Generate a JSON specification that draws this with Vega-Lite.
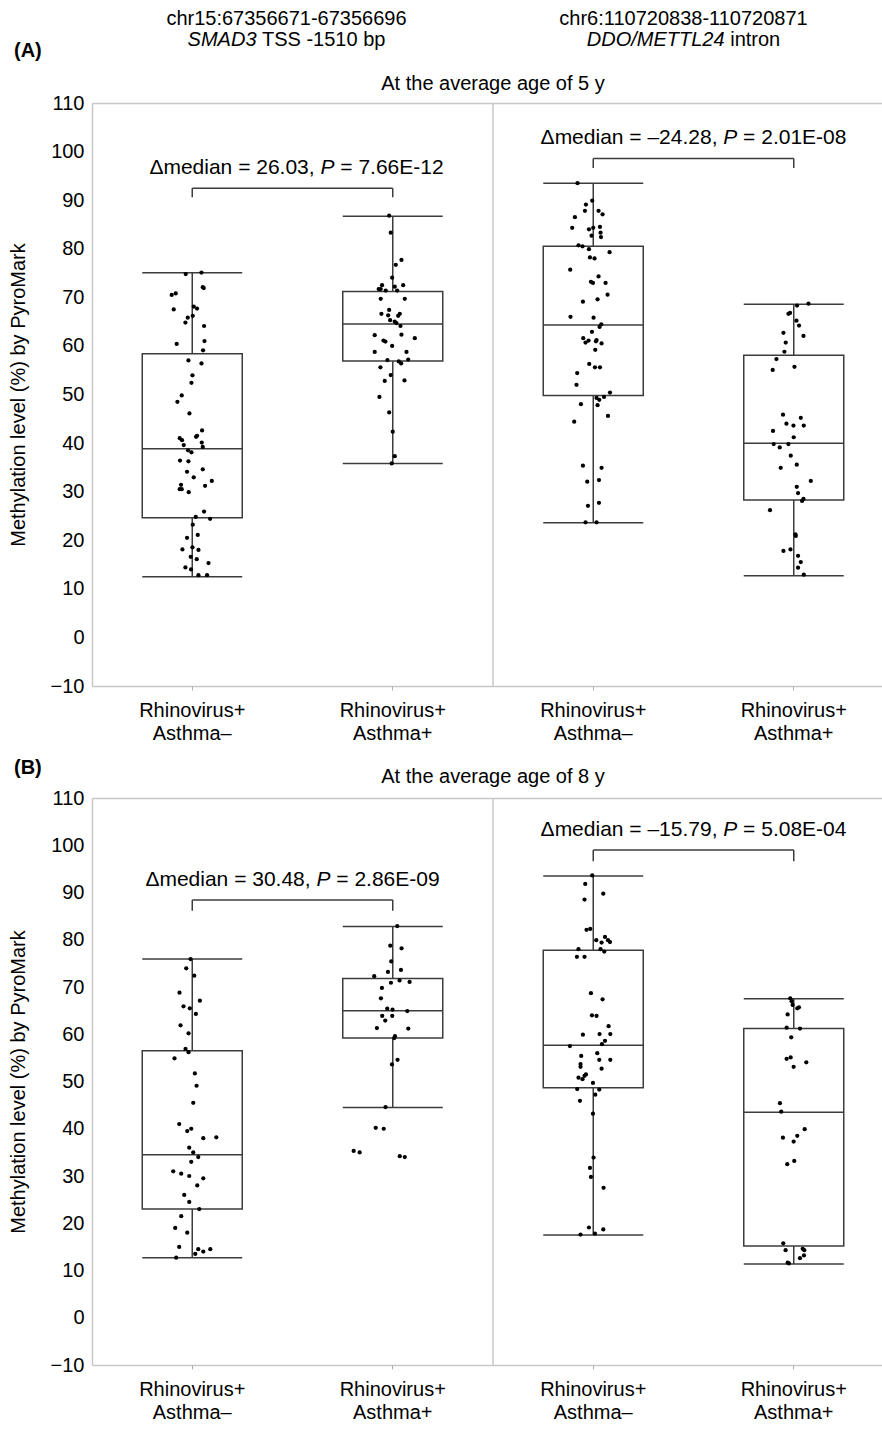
{
"$schema": "https://vega.github.io/schema/vega-lite/v6.json",
"padding": {"left": 8, "top": 8, "right": 0, "bottom": 0},
"background": "white",
"config": {"font": "Liberation Sans", "view": {"stroke": null}},
"bounds": "flush",
"spacing": 112,
"datasets": {
"statsA": [
{"g":"g1","min":12.5,"q1":24.65,"med":38.85,"q3":58.4,"max":75.05},
{"g":"g2","min":35.8,"q1":56.9,"med":64.5,"q3":71.2,"max":86.7},
{"g":"g3","min":23.6,"q1":49.8,"med":64.3,"q3":80.5,"max":93.5},
{"g":"g4","min":12.7,"q1":28.3,"med":39.95,"q3":58.1,"max":68.6}
],
"statsB": [
{"g":"g1","min":12.7,"q1":23.0,"med":34.5,"q3":56.5,"max":75.9},
{"g":"g2","min":44.5,"q1":59.2,"med":65.0,"q3":71.8,"max":82.8},
{"g":"g3","min":17.5,"q1":48.7,"med":57.65,"q3":77.8,"max":93.5},
{"g":"g4","min":11.4,"q1":15.2,"med":43.5,"q3":61.2,"max":67.5}
],
"ptsA": [
{"g":"g1","j":-0.065,"v":74.8},{"g":"g1","j":0.092,"v":75.1},{"g":"g1","j":0.105,"v":72.1},{"g":"g1","j":0.115,"v":71.9},{"g":"g1","j":-0.205,"v":70.5},{"g":"g1","j":-0.165,"v":70.8},{"g":"g1","j":-0.185,"v":67.5},{"g":"g1","j":0.015,"v":68.1},{"g":"g1","j":0.048,"v":67.7},{"g":"g1","j":-0.045,"v":65.8},{"g":"g1","j":0.005,"v":66.2},{"g":"g1","j":-0.068,"v":64.8},{"g":"g1","j":0.118,"v":64.1},{"g":"g1","j":-0.155,"v":60.4},{"g":"g1","j":0.122,"v":61.0},{"g":"g1","j":0.108,"v":59.1},{"g":"g1","j":-0.038,"v":57.0},{"g":"g1","j":0.092,"v":56.4},{"g":"g1","j":0.002,"v":53.95},{"g":"g1","j":-0.008,"v":52.4},{"g":"g1","j":-0.105,"v":49.8},{"g":"g1","j":-0.148,"v":48.5},{"g":"g1","j":-0.028,"v":46.1},{"g":"g1","j":0.098,"v":42.6},{"g":"g1","j":0.048,"v":41.5},{"g":"g1","j":0.038,"v":41.3},{"g":"g1","j":-0.125,"v":41.0},{"g":"g1","j":-0.102,"v":40.6},{"g":"g1","j":0.095,"v":40.1},{"g":"g1","j":-0.085,"v":39.6},{"g":"g1","j":0.105,"v":39.2},{"g":"g1","j":-0.042,"v":38.5},{"g":"g1","j":-0.008,"v":38.1},{"g":"g1","j":-0.122,"v":36.4},{"g":"g1","j":-0.038,"v":36.25},{"g":"g1","j":0.105,"v":34.6},{"g":"g1","j":-0.052,"v":34.1},{"g":"g1","j":0.015,"v":32.95},{"g":"g1","j":0.195,"v":32.2},{"g":"g1","j":0.128,"v":31.2},{"g":"g1","j":-0.112,"v":31.4},{"g":"g1","j":-0.125,"v":30.5},{"g":"g1","j":-0.105,"v":30.5},{"g":"g1","j":-0.035,"v":29.9},{"g":"g1","j":0.118,"v":25.9},{"g":"g1","j":0.035,"v":24.8},{"g":"g1","j":0.178,"v":24.4},{"g":"g1","j":0.005,"v":23.2},{"g":"g1","j":-0.052,"v":20.5},{"g":"g1","j":0.055,"v":21.1},{"g":"g1","j":-0.098,"v":18.1},{"g":"g1","j":0.062,"v":18.0},{"g":"g1","j":0.002,"v":18.55},{"g":"g1","j":-0.015,"v":16.6},{"g":"g1","j":0.045,"v":16.1},{"g":"g1","j":0.162,"v":15.3},{"g":"g1","j":-0.068,"v":14.4},{"g":"g1","j":-0.012,"v":14.0},{"g":"g1","j":0.062,"v":12.8},{"g":"g1","j":0.148,"v":12.8},
{"g":"g2","j":-0.036,"v":86.8},{"g":"g2","j":-0.02,"v":83.3},{"g":"g2","j":0.087,"v":77.7},{"g":"g2","j":0.03,"v":76.7},{"g":"g2","j":-0.006,"v":74.05},{"g":"g2","j":-0.107,"v":72.5},{"g":"g2","j":0.104,"v":72.5},{"g":"g2","j":-0.14,"v":71.7},{"g":"g2","j":-0.12,"v":71.7},{"g":"g2","j":-0.07,"v":71.4},{"g":"g2","j":0.02,"v":72.2},{"g":"g2","j":0.044,"v":71.4},{"g":"g2","j":-0.12,"v":69.7},{"g":"g2","j":0.12,"v":69.7},{"g":"g2","j":-0.036,"v":67.4},{"g":"g2","j":-0.113,"v":66.6},{"g":"g2","j":-0.046,"v":66.3},{"g":"g2","j":0.07,"v":66.6},{"g":"g2","j":0.054,"v":66.2},{"g":"g2","j":-0.026,"v":65.3},{"g":"g2","j":0.02,"v":65.0},{"g":"g2","j":0.037,"v":64.7},{"g":"g2","j":0.077,"v":64.1},{"g":"g2","j":-0.18,"v":62.2},{"g":"g2","j":0.087,"v":62.3},{"g":"g2","j":0.22,"v":61.6},{"g":"g2","j":-0.093,"v":61.1},{"g":"g2","j":-0.073,"v":60.9},{"g":"g2","j":-0.006,"v":60.0},{"g":"g2","j":-0.18,"v":58.75},{"g":"g2","j":0.137,"v":58.75},{"g":"g2","j":-0.053,"v":57.1},{"g":"g2","j":0.06,"v":56.8},{"g":"g2","j":0.084,"v":56.4},{"g":"g2","j":0.154,"v":57.2},{"g":"g2","j":-0.123,"v":55.6},{"g":"g2","j":-0.02,"v":54.0},{"g":"g2","j":-0.08,"v":52.8},{"g":"g2","j":0.117,"v":52.9},{"g":"g2","j":-0.133,"v":49.5},{"g":"g2","j":-0.036,"v":46.3},{"g":"g2","j":0.0,"v":42.35},{"g":"g2","j":0.02,"v":37.3},{"g":"g2","j":-0.01,"v":35.8},
{"g":"g3","j":-0.157,"v":93.5},{"g":"g3","j":-0.01,"v":89.9},{"g":"g3","j":-0.073,"v":89.1},{"g":"g3","j":-0.083,"v":87.8},{"g":"g3","j":0.053,"v":87.8},{"g":"g3","j":0.093,"v":87.1},{"g":"g3","j":-0.183,"v":86.5},{"g":"g3","j":-0.21,"v":84.3},{"g":"g3","j":-0.043,"v":84.0},{"g":"g3","j":0.0,"v":84.3},{"g":"g3","j":0.067,"v":84.5},{"g":"g3","j":0.073,"v":83.3},{"g":"g3","j":-0.017,"v":82.7},{"g":"g3","j":0.077,"v":82.4},{"g":"g3","j":-0.147,"v":80.7},{"g":"g3","j":-0.107,"v":80.5},{"g":"g3","j":-0.043,"v":79.9},{"g":"g3","j":0.163,"v":79.3},{"g":"g3","j":-0.033,"v":78.2},{"g":"g3","j":0.013,"v":78.0},{"g":"g3","j":-0.23,"v":75.7},{"g":"g3","j":0.053,"v":74.3},{"g":"g3","j":-0.023,"v":73.2},{"g":"g3","j":-0.003,"v":72.96},{"g":"g3","j":0.123,"v":72.96},{"g":"g3","j":0.143,"v":70.55},{"g":"g3","j":0.043,"v":69.6},{"g":"g3","j":-0.103,"v":69.1},{"g":"g3","j":-0.227,"v":66.0},{"g":"g3","j":0.003,"v":65.8},{"g":"g3","j":0.08,"v":64.45},{"g":"g3","j":0.063,"v":63.9},{"g":"g3","j":-0.013,"v":62.9},{"g":"g3","j":-0.1,"v":61.6},{"g":"g3","j":-0.047,"v":61.1},{"g":"g3","j":-0.077,"v":60.7},{"g":"g3","j":0.033,"v":61.2},{"g":"g3","j":0.027,"v":60.95},{"g":"g3","j":0.083,"v":60.5},{"g":"g3","j":0.02,"v":59.2},{"g":"g3","j":-0.04,"v":56.3},{"g":"g3","j":0.017,"v":55.6},{"g":"g3","j":0.067,"v":55.6},{"g":"g3","j":-0.16,"v":54.4},{"g":"g3","j":-0.167,"v":52.0},{"g":"g3","j":0.167,"v":50.4},{"g":"g3","j":0.107,"v":49.5},{"g":"g3","j":0.033,"v":49.3},{"g":"g3","j":0.06,"v":48.9},{"g":"g3","j":-0.123,"v":48.0},{"g":"g3","j":0.043,"v":47.8},{"g":"g3","j":0.147,"v":45.6},{"g":"g3","j":-0.19,"v":44.4},{"g":"g3","j":-0.103,"v":35.35},{"g":"g3","j":0.083,"v":34.9},{"g":"g3","j":-0.06,"v":32.05},{"g":"g3","j":0.057,"v":32.4},{"g":"g3","j":-0.053,"v":27.1},{"g":"g3","j":0.057,"v":27.7},{"g":"g3","j":-0.077,"v":23.7},{"g":"g3","j":0.033,"v":23.7},
{"g":"g4","j":0.147,"v":68.7},{"g":"g4","j":0.033,"v":68.3},{"g":"g4","j":-0.053,"v":66.6},{"g":"g4","j":-0.037,"v":66.8},{"g":"g4","j":0.027,"v":65.2},{"g":"g4","j":0.053,"v":64.2},{"g":"g4","j":-0.103,"v":62.7},{"g":"g4","j":0.097,"v":62.05},{"g":"g4","j":-0.08,"v":60.7},{"g":"g4","j":-0.093,"v":58.8},{"g":"g4","j":-0.173,"v":57.3},{"g":"g4","j":-0.21,"v":55.05},{"g":"g4","j":0.007,"v":55.7},{"g":"g4","j":-0.107,"v":45.85},{"g":"g4","j":0.07,"v":45.2},{"g":"g4","j":-0.073,"v":44.0},{"g":"g4","j":-0.003,"v":43.6},{"g":"g4","j":0.1,"v":43.6},{"g":"g4","j":-0.207,"v":42.5},{"g":"g4","j":0.0,"v":41.2},{"g":"g4","j":-0.2,"v":39.8},{"g":"g4","j":-0.053,"v":39.8},{"g":"g4","j":-0.14,"v":39.1},{"g":"g4","j":-0.03,"v":37.4},{"g":"g4","j":0.03,"v":35.55},{"g":"g4","j":-0.13,"v":34.9},{"g":"g4","j":0.17,"v":32.2},{"g":"g4","j":0.03,"v":31.0},{"g":"g4","j":0.043,"v":29.7},{"g":"g4","j":0.097,"v":28.5},{"g":"g4","j":0.083,"v":28.1},{"g":"g4","j":-0.237,"v":26.2},{"g":"g4","j":0.017,"v":21.2},{"g":"g4","j":0.02,"v":20.9},{"g":"g4","j":-0.103,"v":17.8},{"g":"g4","j":-0.033,"v":18.1},{"g":"g4","j":0.043,"v":16.8},{"g":"g4","j":0.07,"v":15.5},{"g":"g4","j":0.043,"v":14.35},{"g":"g4","j":0.1,"v":12.9}
],
"ptsB": [
{"g":"g1","j":-0.017,"v":75.9},{"g":"g1","j":-0.06,"v":73.95},{"g":"g1","j":0.02,"v":72.4},{"g":"g1","j":-0.127,"v":68.8},{"g":"g1","j":0.076,"v":67.1},{"g":"g1","j":-0.087,"v":65.9},{"g":"g1","j":-0.024,"v":65.5},{"g":"g1","j":0.036,"v":64.3},{"g":"g1","j":-0.117,"v":61.9},{"g":"g1","j":-0.037,"v":60.2},{"g":"g1","j":-0.067,"v":56.9},{"g":"g1","j":-0.037,"v":56.2},{"g":"g1","j":-0.177,"v":54.9},{"g":"g1","j":0.026,"v":51.7},{"g":"g1","j":0.043,"v":49.1},{"g":"g1","j":0.01,"v":45.5},{"g":"g1","j":-0.13,"v":41.0},{"g":"g1","j":-0.01,"v":40.0},{"g":"g1","j":-0.05,"v":39.5},{"g":"g1","j":0.11,"v":38.0},{"g":"g1","j":0.24,"v":38.2},{"g":"g1","j":-0.03,"v":36.0},{"g":"g1","j":0.01,"v":35.0},{"g":"g1","j":0.06,"v":34.0},{"g":"g1","j":-0.01,"v":33.0},{"g":"g1","j":-0.19,"v":31.0},{"g":"g1","j":-0.11,"v":30.5},{"g":"g1","j":-0.03,"v":30.0},{"g":"g1","j":0.11,"v":29.5},{"g":"g1","j":0.05,"v":28.0},{"g":"g1","j":-0.08,"v":26.0},{"g":"g1","j":-0.03,"v":24.5},{"g":"g1","j":0.07,"v":23.0},{"g":"g1","j":-0.11,"v":21.5},{"g":"g1","j":-0.17,"v":19.0},{"g":"g1","j":-0.05,"v":18.0},{"g":"g1","j":-0.13,"v":15.0},{"g":"g1","j":0.06,"v":14.5},{"g":"g1","j":0.11,"v":14.0},{"g":"g1","j":0.18,"v":14.5},{"g":"g1","j":0.03,"v":13.5},{"g":"g1","j":-0.16,"v":12.7},
{"g":"g2","j":0.045,"v":82.9},{"g":"g2","j":-0.025,"v":78.75},{"g":"g2","j":0.088,"v":78.2},{"g":"g2","j":-0.015,"v":75.4},{"g":"g2","j":-0.048,"v":73.2},{"g":"g2","j":0.082,"v":73.6},{"g":"g2","j":-0.185,"v":72.3},{"g":"g2","j":-0.018,"v":70.9},{"g":"g2","j":0.068,"v":71.4},{"g":"g2","j":0.168,"v":71.06},{"g":"g2","j":-0.108,"v":69.8},{"g":"g2","j":-0.118,"v":67.6},{"g":"g2","j":-0.055,"v":65.4},{"g":"g2","j":-0.002,"v":65.2},{"g":"g2","j":0.145,"v":64.9},{"g":"g2","j":-0.105,"v":63.9},{"g":"g2","j":-0.005,"v":63.9},{"g":"g2","j":-0.075,"v":62.9},{"g":"g2","j":-0.158,"v":61.3},{"g":"g2","j":0.155,"v":61.2},{"g":"g2","j":0.022,"v":59.6},{"g":"g2","j":0.015,"v":59.2},{"g":"g2","j":0.048,"v":54.6},{"g":"g2","j":-0.008,"v":53.6},{"g":"g2","j":-0.072,"v":44.6},{"g":"g2","j":-0.17,"v":40.2},{"g":"g2","j":-0.09,"v":40.0},{"g":"g2","j":-0.39,"v":35.3},{"g":"g2","j":-0.33,"v":35.0},{"g":"g2","j":0.07,"v":34.2},{"g":"g2","j":0.12,"v":34.0},
{"g":"g3","j":-0.01,"v":93.6},{"g":"g3","j":-0.08,"v":91.8},{"g":"g3","j":0.1,"v":89.75},{"g":"g3","j":-0.087,"v":88.5},{"g":"g3","j":-0.067,"v":82.1},{"g":"g3","j":-0.03,"v":82.3},{"g":"g3","j":0.03,"v":79.9},{"g":"g3","j":0.117,"v":80.6},{"g":"g3","j":0.083,"v":79.4},{"g":"g3","j":0.147,"v":79.9},{"g":"g3","j":0.167,"v":79.5},{"g":"g3","j":-0.147,"v":78.0},{"g":"g3","j":0.073,"v":78.0},{"g":"g3","j":0.11,"v":77.5},{"g":"g3","j":-0.163,"v":76.4},{"g":"g3","j":-0.087,"v":76.4},{"g":"g3","j":-0.023,"v":68.7},{"g":"g3","j":0.093,"v":67.4},{"g":"g3","j":-0.013,"v":64.0},{"g":"g3","j":0.033,"v":63.9},{"g":"g3","j":0.153,"v":61.7},{"g":"g3","j":-0.103,"v":59.9},{"g":"g3","j":0.063,"v":60.05},{"g":"g3","j":0.17,"v":60.05},{"g":"g3","j":0.117,"v":58.6},{"g":"g3","j":0.087,"v":57.9},{"g":"g3","j":-0.233,"v":57.5},{"g":"g3","j":0.04,"v":56.0},{"g":"g3","j":-0.12,"v":55.4},{"g":"g3","j":0.06,"v":54.6},{"g":"g3","j":0.17,"v":54.6},{"g":"g3","j":-0.127,"v":53.7},{"g":"g3","j":-0.127,"v":53.1},{"g":"g3","j":0.083,"v":52.7},{"g":"g3","j":-0.073,"v":51.5},{"g":"g3","j":-0.087,"v":51.2},{"g":"g3","j":-0.147,"v":50.8},{"g":"g3","j":-0.107,"v":50.5},{"g":"g3","j":-0.003,"v":49.7},{"g":"g3","j":-0.16,"v":48.4},{"g":"g3","j":0.06,"v":48.3},{"g":"g3","j":0.02,"v":47.2},{"g":"g3","j":-0.133,"v":45.9},{"g":"g3","j":-0.003,"v":43.2},{"g":"g3","j":0.003,"v":33.9},{"g":"g3","j":-0.033,"v":31.7},{"g":"g3","j":-0.023,"v":29.8},{"g":"g3","j":0.103,"v":27.5},{"g":"g3","j":-0.043,"v":19.1},{"g":"g3","j":0.1,"v":18.7},{"g":"g3","j":-0.127,"v":17.6},{"g":"g3","j":0.017,"v":17.8},
{"g":"g4","j":-0.035,"v":67.6},{"g":"g4","j":-0.021,"v":67.0},{"g":"g4","j":-0.011,"v":66.2},{"g":"g4","j":0.035,"v":65.5},{"g":"g4","j":0.052,"v":65.7},{"g":"g4","j":-0.061,"v":64.2},{"g":"g4","j":-0.071,"v":61.4},{"g":"g4","j":0.062,"v":61.2},{"g":"g4","j":-0.025,"v":59.35},{"g":"g4","j":-0.071,"v":54.8},{"g":"g4","j":-0.031,"v":55.1},{"g":"g4","j":0.125,"v":54.05},{"g":"g4","j":-0.001,"v":53.1},{"g":"g4","j":-0.138,"v":45.4},{"g":"g4","j":-0.125,"v":43.6},{"g":"g4","j":0.109,"v":39.9},{"g":"g4","j":-0.108,"v":38.1},{"g":"g4","j":0.035,"v":38.5},{"g":"g4","j":-0.001,"v":37.3},{"g":"g4","j":0.005,"v":33.2},{"g":"g4","j":-0.065,"v":32.5},{"g":"g4","j":-0.105,"v":15.75},{"g":"g4","j":-0.081,"v":14.3},{"g":"g4","j":0.089,"v":14.6},{"g":"g4","j":0.105,"v":14.3},{"g":"g4","j":0.102,"v":13.2},{"g":"g4","j":0.062,"v":12.6},{"g":"g4","j":-0.061,"v":11.65},{"g":"g4","j":-0.048,"v":11.5}
]
},
"vconcat": [
{
"width": 788, "height": 583,
"data": {"values": [{}]},
"layer": [
{"data": {"name": "statsA"}, "mark": {"type": "rule", "color": "#3c3c3c", "strokeWidth": 1.5},
 "encoding": {
  "x": {"field": "g", "type": "nominal", "scale": {"domain": ["g1","g2","g3","g4"], "range": [0, 802], "paddingInner": 0, "paddingOuter": 0},
        "axis": {"title": null, "domain": false, "ticks": true, "tickSize": 4, "tickColor": "#b0b0b0", "labelAngle": 0, "labelFontSize": 20, "labelColor": "black", "labelPadding": 10, "labelLineHeight": 23, "labelExpr": "(datum.value == 'g1' || datum.value == 'g3') ? ['Rhinovirus+', 'Asthma–'] : ['Rhinovirus+', 'Asthma+']"}},
  "y": {"field": "min", "type": "quantitative", "scale": {"domain": [-10, 110], "nice": false, "zero": false},
        "axis": {"title": "Methylation level (%) by PyroMark", "values": [-10,0,10,20,30,40,50,60,70,80,90,100,110], "ticks": false, "domainColor": "#c8c8c8", "domainWidth": 1.5, "grid": true, "gridColor": "#c8c8c8", "gridWidth": 1.5, "gridOpacity": {"condition": {"test": "datum.value == 110 || datum.value == -10", "value": 1}, "value": 0}, "labelFontSize": 20, "labelColor": "black", "labelPadding": 8, "titleFontSize": 20, "titleFontWeight": "normal", "titleColor": "black", "titlePadding": 22}},
  "y2": {"field": "max"}
 }},
{"data": {"name": "statsA"}, "mark": {"type": "bar", "fill": "white", "stroke": "#3c3c3c", "strokeWidth": 1.5, "width": 100},
 "encoding": {"x": {"field": "g", "type": "nominal"}, "y": {"field": "q1", "type": "quantitative"}, "y2": {"field": "q3"}}},
{"data": {"name": "statsA"}, "transform": [{"fold": ["min", "med", "max"], "as": ["stat", "val"]}],
 "mark": {"type": "tick", "orient": "horizontal", "size": 100, "thickness": 1.5, "color": "#3c3c3c", "opacity": 1},
 "encoding": {"x": {"field": "g", "type": "nominal"}, "y": {"field": "val", "type": "quantitative"}}},
{"mark": {"type": "rule", "color": "#c8c8c8", "strokeWidth": 1.5},
 "encoding": {"x": {"datum": "g3", "type": "nominal", "bandPosition": 0}, "y": {"datum": -10, "type": "quantitative"}, "y2": {"datum": 110}}},
{"data": {"name": "ptsA"}, "mark": {"type": "circle", "size": 18, "color": "black", "opacity": 1},
 "encoding": {"x": {"field": "g", "type": "nominal"}, "xOffset": {"field": "j", "type": "quantitative", "scale": {"domain": [-1, 1]}}, "y": {"field": "v", "type": "quantitative"}}},
{"mark": {"type": "rule", "color": "#3c3c3c", "strokeWidth": 1.5},
 "encoding": {"x": {"datum": "g1", "type": "nominal"}, "x2": {"datum": "g2"}, "y": {"datum": 92.45, "type": "quantitative"}}},
{"mark": {"type": "rule", "color": "#3c3c3c", "strokeWidth": 1.5},
 "encoding": {"x": {"datum": "g1", "type": "nominal"}, "y": {"datum": 92.45, "type": "quantitative"}, "y2": {"datum": 90.6}}},
{"mark": {"type": "rule", "color": "#3c3c3c", "strokeWidth": 1.5},
 "encoding": {"x": {"datum": "g2", "type": "nominal"}, "y": {"datum": 92.45, "type": "quantitative"}, "y2": {"datum": 90.6}}},
{"mark": {"type": "rule", "color": "#3c3c3c", "strokeWidth": 1.5},
 "encoding": {"x": {"datum": "g3", "type": "nominal"}, "x2": {"datum": "g4"}, "y": {"datum": 98.6, "type": "quantitative"}}},
{"mark": {"type": "rule", "color": "#3c3c3c", "strokeWidth": 1.5},
 "encoding": {"x": {"datum": "g3", "type": "nominal"}, "y": {"datum": 98.6, "type": "quantitative"}, "y2": {"datum": 96.6}}},
{"mark": {"type": "rule", "color": "#3c3c3c", "strokeWidth": 1.5},
 "encoding": {"x": {"datum": "g4", "type": "nominal"}, "y": {"datum": 98.6, "type": "quantitative"}, "y2": {"datum": 96.6}}},
{"mark": {"type": "text", "align": "left", "baseline": "middle", "fontSize": 21, "color": "black", "dx": -143.1, "text": "Δmedian = 26.03,"},
 "encoding": {"x": {"datum": "g1", "type": "nominal", "bandPosition": 1}, "y": {"datum": 96.57, "type": "quantitative"}}},
{"mark": {"type": "text", "align": "left", "baseline": "middle", "fontSize": 21, "color": "black", "fontStyle": "italic", "dx": 27.9, "text": "P"},
 "encoding": {"x": {"datum": "g1", "type": "nominal", "bandPosition": 1}, "y": {"datum": 96.57, "type": "quantitative"}}},
{"mark": {"type": "text", "align": "left", "baseline": "middle", "fontSize": 21, "color": "black", "dx": 47.8, "text": "= 7.66E-12"},
 "encoding": {"x": {"datum": "g1", "type": "nominal", "bandPosition": 1}, "y": {"datum": 96.57, "type": "quantitative"}}},
{"mark": {"type": "text", "align": "left", "baseline": "middle", "fontSize": 21, "color": "black", "dx": -152.9, "text": "Δmedian = –24.28,"},
 "encoding": {"x": {"datum": "g3", "type": "nominal", "bandPosition": 1}, "y": {"datum": 102.7, "type": "quantitative"}}},
{"mark": {"type": "text", "align": "left", "baseline": "middle", "fontSize": 21, "color": "black", "fontStyle": "italic", "dx": 29.8, "text": "P"},
 "encoding": {"x": {"datum": "g3", "type": "nominal", "bandPosition": 1}, "y": {"datum": 102.7, "type": "quantitative"}}},
{"mark": {"type": "text", "align": "left", "baseline": "middle", "fontSize": 21, "color": "black", "dx": 49.6, "text": "= 2.01E-08"},
 "encoding": {"x": {"datum": "g3", "type": "nominal", "bandPosition": 1}, "y": {"datum": 102.7, "type": "quantitative"}}},
{"mark": {"type": "text", "align": "center", "baseline": "middle", "fontSize": 20, "color": "black", "text": "At the average age of 5 y"},
 "encoding": {"x": {"datum": "g2", "type": "nominal", "bandPosition": 1}, "y": {"datum": 113.9, "type": "quantitative"}}},
{"mark": {"type": "text", "align": "left", "baseline": "middle", "fontSize": 20, "fontWeight": "bold", "color": "black", "dx": -78, "text": "(A)"},
 "encoding": {"x": {"datum": "g1", "type": "nominal", "bandPosition": 0}, "y": {"datum": 120.8, "type": "quantitative"}}},
{"mark": {"type": "text", "align": "center", "baseline": "middle", "fontSize": 20, "color": "black", "dx": -6, "text": "chr15:67356671-67356696"},
 "encoding": {"x": {"datum": "g1", "type": "nominal", "bandPosition": 1}, "y": {"datum": 127.3, "type": "quantitative"}}},
{"mark": {"type": "text", "align": "left", "baseline": "middle", "fontSize": 20, "color": "black", "fontStyle": "italic", "dx": -104.9, "text": "SMAD3"},
 "encoding": {"x": {"datum": "g1", "type": "nominal", "bandPosition": 1}, "y": {"datum": 122.9, "type": "quantitative"}}},
{"mark": {"type": "text", "align": "left", "baseline": "middle", "fontSize": 20, "color": "black", "dx": -30.5, "text": "TSS -1510 bp"},
 "encoding": {"x": {"datum": "g1", "type": "nominal", "bandPosition": 1}, "y": {"datum": 122.9, "type": "quantitative"}}},
{"mark": {"type": "text", "align": "center", "baseline": "middle", "fontSize": 20, "color": "black", "dx": -10, "text": "chr6:110720838-110720871"},
 "encoding": {"x": {"datum": "g3", "type": "nominal", "bandPosition": 1}, "y": {"datum": 127.3, "type": "quantitative"}}},
{"mark": {"type": "text", "align": "left", "baseline": "middle", "fontSize": 20, "color": "black", "fontStyle": "italic", "dx": -106.7, "text": "DDO/METTL24"},
 "encoding": {"x": {"datum": "g3", "type": "nominal", "bandPosition": 1}, "y": {"datum": 122.9, "type": "quantitative"}}},
{"mark": {"type": "text", "align": "left", "baseline": "middle", "fontSize": 20, "color": "black", "dx": 36.7, "text": "intron"},
 "encoding": {"x": {"datum": "g3", "type": "nominal", "bandPosition": 1}, "y": {"datum": 122.9, "type": "quantitative"}}}
]
},
{
"width": 788, "height": 567,
"data": {"values": [{}]},
"layer": [
{"data": {"name": "statsB"}, "mark": {"type": "rule", "color": "#3c3c3c", "strokeWidth": 1.5},
 "encoding": {
  "x": {"field": "g", "type": "nominal", "scale": {"domain": ["g1","g2","g3","g4"], "range": [0, 802], "paddingInner": 0, "paddingOuter": 0},
        "axis": {"title": null, "domain": false, "ticks": true, "tickSize": 4, "tickColor": "#b0b0b0", "labelAngle": 0, "labelFontSize": 20, "labelColor": "black", "labelPadding": 10, "labelLineHeight": 23, "labelExpr": "(datum.value == 'g1' || datum.value == 'g3') ? ['Rhinovirus+', 'Asthma–'] : ['Rhinovirus+', 'Asthma+']"}},
  "y": {"field": "min", "type": "quantitative", "scale": {"domain": [-10, 110], "nice": false, "zero": false},
        "axis": {"title": "Methylation level (%) by PyroMark", "values": [-10,0,10,20,30,40,50,60,70,80,90,100,110], "ticks": false, "domainColor": "#c8c8c8", "domainWidth": 1.5, "grid": true, "gridColor": "#c8c8c8", "gridWidth": 1.5, "gridOpacity": {"condition": {"test": "datum.value == 110 || datum.value == -10", "value": 1}, "value": 0}, "labelFontSize": 20, "labelColor": "black", "labelPadding": 8, "titleFontSize": 20, "titleFontWeight": "normal", "titleColor": "black", "titlePadding": 22}},
  "y2": {"field": "max"}
 }},
{"data": {"name": "statsB"}, "mark": {"type": "bar", "fill": "white", "stroke": "#3c3c3c", "strokeWidth": 1.5, "width": 100},
 "encoding": {"x": {"field": "g", "type": "nominal"}, "y": {"field": "q1", "type": "quantitative"}, "y2": {"field": "q3"}}},
{"data": {"name": "statsB"}, "transform": [{"fold": ["min", "med", "max"], "as": ["stat", "val"]}],
 "mark": {"type": "tick", "orient": "horizontal", "size": 100, "thickness": 1.5, "color": "#3c3c3c", "opacity": 1},
 "encoding": {"x": {"field": "g", "type": "nominal"}, "y": {"field": "val", "type": "quantitative"}}},
{"mark": {"type": "rule", "color": "#c8c8c8", "strokeWidth": 1.5},
 "encoding": {"x": {"datum": "g3", "type": "nominal", "bandPosition": 0}, "y": {"datum": -10, "type": "quantitative"}, "y2": {"datum": 110}}},
{"data": {"name": "ptsB"}, "mark": {"type": "circle", "size": 18, "color": "black", "opacity": 1},
 "encoding": {"x": {"field": "g", "type": "nominal"}, "xOffset": {"field": "j", "type": "quantitative", "scale": {"domain": [-1, 1]}}, "y": {"field": "v", "type": "quantitative"}}},
{"mark": {"type": "rule", "color": "#3c3c3c", "strokeWidth": 1.5},
 "encoding": {"x": {"datum": "g1", "type": "nominal"}, "x2": {"datum": "g2"}, "y": {"datum": 88.4, "type": "quantitative"}}},
{"mark": {"type": "rule", "color": "#3c3c3c", "strokeWidth": 1.5},
 "encoding": {"x": {"datum": "g1", "type": "nominal"}, "y": {"datum": 88.4, "type": "quantitative"}, "y2": {"datum": 86.15}}},
{"mark": {"type": "rule", "color": "#3c3c3c", "strokeWidth": 1.5},
 "encoding": {"x": {"datum": "g2", "type": "nominal"}, "y": {"datum": 88.4, "type": "quantitative"}, "y2": {"datum": 86.15}}},
{"mark": {"type": "rule", "color": "#3c3c3c", "strokeWidth": 1.5},
 "encoding": {"x": {"datum": "g3", "type": "nominal"}, "x2": {"datum": "g4"}, "y": {"datum": 99.0, "type": "quantitative"}}},
{"mark": {"type": "rule", "color": "#3c3c3c", "strokeWidth": 1.5},
 "encoding": {"x": {"datum": "g3", "type": "nominal"}, "y": {"datum": 99.0, "type": "quantitative"}, "y2": {"datum": 96.6}}},
{"mark": {"type": "rule", "color": "#3c3c3c", "strokeWidth": 1.5},
 "encoding": {"x": {"datum": "g4", "type": "nominal"}, "y": {"datum": 99.0, "type": "quantitative"}, "y2": {"datum": 96.6}}},
{"mark": {"type": "text", "align": "left", "baseline": "middle", "fontSize": 21, "color": "black", "dx": -147.1, "text": "Δmedian = 30.48,"},
 "encoding": {"x": {"datum": "g1", "type": "nominal", "bandPosition": 1}, "y": {"datum": 92.65, "type": "quantitative"}}},
{"mark": {"type": "text", "align": "left", "baseline": "middle", "fontSize": 21, "color": "black", "fontStyle": "italic", "dx": 23.9, "text": "P"},
 "encoding": {"x": {"datum": "g1", "type": "nominal", "bandPosition": 1}, "y": {"datum": 92.65, "type": "quantitative"}}},
{"mark": {"type": "text", "align": "left", "baseline": "middle", "fontSize": 21, "color": "black", "dx": 43.8, "text": "= 2.86E-09"},
 "encoding": {"x": {"datum": "g1", "type": "nominal", "bandPosition": 1}, "y": {"datum": 92.65, "type": "quantitative"}}},
{"mark": {"type": "text", "align": "left", "baseline": "middle", "fontSize": 21, "color": "black", "dx": -152.9, "text": "Δmedian = –15.79,"},
 "encoding": {"x": {"datum": "g3", "type": "nominal", "bandPosition": 1}, "y": {"datum": 103.2, "type": "quantitative"}}},
{"mark": {"type": "text", "align": "left", "baseline": "middle", "fontSize": 21, "color": "black", "fontStyle": "italic", "dx": 29.8, "text": "P"},
 "encoding": {"x": {"datum": "g3", "type": "nominal", "bandPosition": 1}, "y": {"datum": 103.2, "type": "quantitative"}}},
{"mark": {"type": "text", "align": "left", "baseline": "middle", "fontSize": 21, "color": "black", "dx": 49.6, "text": "= 5.08E-04"},
 "encoding": {"x": {"datum": "g3", "type": "nominal", "bandPosition": 1}, "y": {"datum": 103.2, "type": "quantitative"}}},
{"mark": {"type": "text", "align": "center", "baseline": "middle", "fontSize": 20, "color": "black", "text": "At the average age of 8 y"},
 "encoding": {"x": {"datum": "g2", "type": "nominal", "bandPosition": 1}, "y": {"datum": 114.4, "type": "quantitative"}}},
{"mark": {"type": "text", "align": "left", "baseline": "middle", "fontSize": 20, "fontWeight": "bold", "color": "black", "dx": -78, "text": "(B)"},
 "encoding": {"x": {"datum": "g1", "type": "nominal", "bandPosition": 0}, "y": {"datum": 116.4, "type": "quantitative"}}}
]
}
]
}
